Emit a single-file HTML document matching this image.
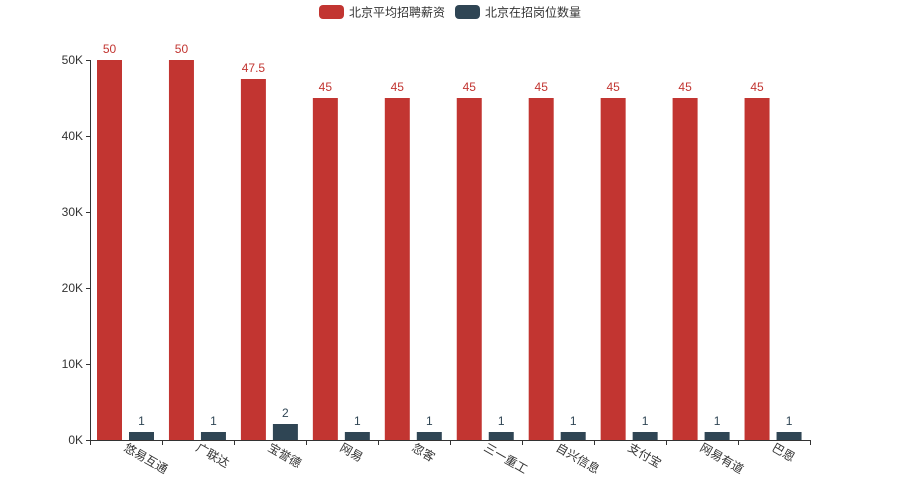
<!DOCTYPE html>
<html><head><meta charset="utf-8"><style>
html,body{margin:0;padding:0;background:#fff;}
svg{display:block;font-family:"Liberation Sans","Noto Sans CJK SC",sans-serif;}
</style></head><body>
<svg width="900" height="500" viewBox="0 0 900 500">
<rect x="319" y="5" width="25" height="14" rx="4" fill="#c23531"/>
<text x="349" y="16.5" font-size="12" fill="#333">北京平均招聘薪资</text>
<rect x="455" y="5" width="25" height="14" rx="4" fill="#2f4554"/>
<text x="485" y="16.5" font-size="12" fill="#333">北京在招岗位数量</text>
<g font-size="12" fill="#333" text-anchor="end">
<text x="83" y="444">0K</text><text x="83" y="368">10K</text><text x="83" y="292">20K</text>
<text x="83" y="216">30K</text><text x="83" y="140">40K</text><text x="83" y="64">50K</text>
</g>
<g fill="#c23531">
<rect x="97" y="60" width="25" height="380"/>
<rect x="168.95" y="60" width="25" height="380"/>
<rect x="240.9" y="79" width="25" height="361"/>
<rect x="312.85" y="98" width="25" height="342"/>
<rect x="384.8" y="98" width="25" height="342"/>
<rect x="456.75" y="98" width="25" height="342"/>
<rect x="528.7" y="98" width="25" height="342"/>
<rect x="600.65" y="98" width="25" height="342"/>
<rect x="672.6" y="98" width="25" height="342"/>
<rect x="744.55" y="98" width="25" height="342"/>
</g>
<g fill="#c23531" font-size="12" text-anchor="middle">
<text x="109.5" y="53">50</text>
<text x="181.45" y="53">50</text>
<text x="253.4" y="72">47.5</text>
<text x="325.35" y="91">45</text>
<text x="397.3" y="91">45</text>
<text x="469.25" y="91">45</text>
<text x="541.2" y="91">45</text>
<text x="613.15" y="91">45</text>
<text x="685.1" y="91">45</text>
<text x="757.05" y="91">45</text>
</g>
<g fill="#2f4554">
<rect x="129" y="432" width="25" height="8"/>
<rect x="200.95" y="432" width="25" height="8"/>
<rect x="272.9" y="424" width="25" height="16"/>
<rect x="344.85" y="432" width="25" height="8"/>
<rect x="416.8" y="432" width="25" height="8"/>
<rect x="488.75" y="432" width="25" height="8"/>
<rect x="560.7" y="432" width="25" height="8"/>
<rect x="632.65" y="432" width="25" height="8"/>
<rect x="704.6" y="432" width="25" height="8"/>
<rect x="776.55" y="432" width="25" height="8"/>
</g>
<g fill="#2f4554" font-size="12" text-anchor="middle">
<text x="141.5" y="425">1</text>
<text x="213.45" y="425">1</text>
<text x="285.4" y="417">2</text>
<text x="357.35" y="425">1</text>
<text x="429.3" y="425">1</text>
<text x="501.25" y="425">1</text>
<text x="573.2" y="425">1</text>
<text x="645.15" y="425">1</text>
<text x="717.1" y="425">1</text>
<text x="789.05" y="425">1</text>
</g>
<g stroke="#333" stroke-width="1">
<line x1="90.5" y1="60" x2="90.5" y2="440"/>
<line x1="86" y1="440.5" x2="90" y2="440.5"/><line x1="86" y1="364.5" x2="90" y2="364.5"/>
<line x1="86" y1="288.5" x2="90" y2="288.5"/><line x1="86" y1="212.5" x2="90" y2="212.5"/>
<line x1="86" y1="136.5" x2="90" y2="136.5"/><line x1="86" y1="60.5" x2="90" y2="60.5"/>
<line x1="90.5" y1="440.5" x2="810.5" y2="440.5"/>
<line x1="90.5" y1="440" x2="90.5" y2="445"/>
<line x1="162.5" y1="440" x2="162.5" y2="445"/>
<line x1="234.5" y1="440" x2="234.5" y2="445"/>
<line x1="306.5" y1="440" x2="306.5" y2="445"/>
<line x1="378.5" y1="440" x2="378.5" y2="445"/>
<line x1="450.5" y1="440" x2="450.5" y2="445"/>
<line x1="522.5" y1="440" x2="522.5" y2="445"/>
<line x1="594.5" y1="440" x2="594.5" y2="445"/>
<line x1="666.5" y1="440" x2="666.5" y2="445"/>
<line x1="738.5" y1="440" x2="738.5" y2="445"/>
<line x1="810.5" y1="440" x2="810.5" y2="445"/>
</g>
<g font-size="12" fill="#333">
<text transform="translate(123,450) rotate(30)">悠易互通</text>
<text transform="translate(195,450) rotate(30)">广联达</text>
<text transform="translate(267,450) rotate(30)">宝誉德</text>
<text transform="translate(339,450) rotate(30)">网易</text>
<text transform="translate(411,450) rotate(30)">忽客</text>
<text transform="translate(483,450) rotate(30)">三一重工</text>
<text transform="translate(555,450) rotate(30)">自兴信息</text>
<text transform="translate(627,450) rotate(30)">支付宝</text>
<text transform="translate(699,450) rotate(30)">网易有道</text>
<text transform="translate(771,450) rotate(30)">巴恩</text>
</g>
</svg>
</body></html>
